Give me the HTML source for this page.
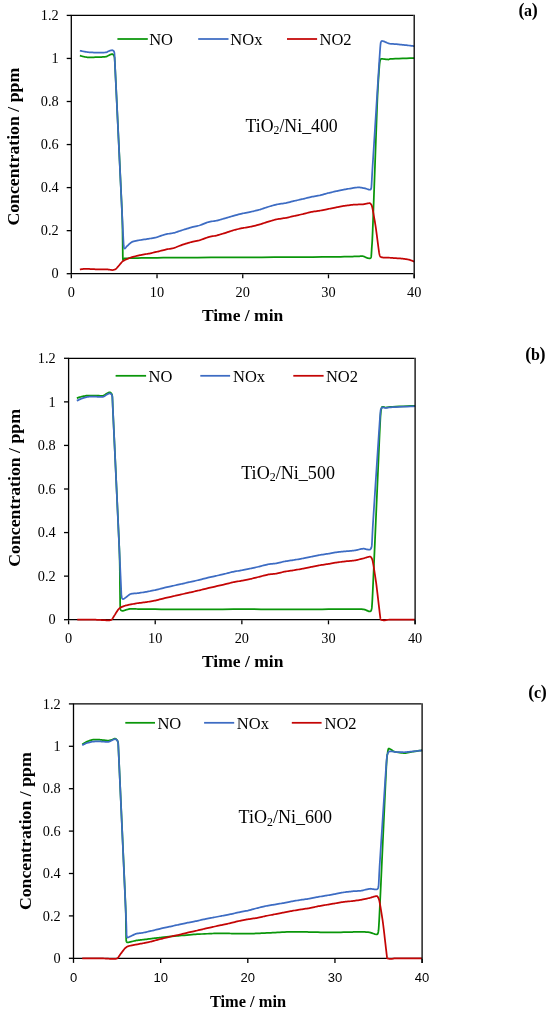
<!DOCTYPE html>
<html><head><meta charset="utf-8"><title>Chart</title>
<style>html,body{margin:0;padding:0;background:#fff}body{width:550px;height:1012px;overflow:hidden;font-family:"Liberation Serif",serif}</style></head>
<body>
<div style="will-change:transform;width:550px;height:1012px">
<svg width="550" height="1012" viewBox="0 0 550 1012" style="display:block">
<path d="M413.55,15.40 H71.30 V273.70 H413.55" fill="none" stroke="#000" stroke-width="1.30" stroke-linejoin="miter"/>
<path d="M79.87,55.65 L80.14,55.72 L80.60,55.84 L81.19,55.99 L81.85,56.17 L82.54,56.34 L83.19,56.50 L83.75,56.64 L84.16,56.73 L84.54,56.80 L85.01,56.90 L85.55,57.00 L86.14,57.10 L86.75,57.20 L87.35,57.28 L87.93,57.34 L88.44,57.37 L89.11,57.38 L90.09,57.37 L91.27,57.34 L92.57,57.31 L93.89,57.27 L95.14,57.23 L96.21,57.19 L97.02,57.16 L97.83,57.13 L98.90,57.10 L100.14,57.06 L101.46,57.01 L102.76,56.95 L103.95,56.89 L104.92,56.81 L105.59,56.73 L106.12,56.59 L106.71,56.36 L107.33,56.08 L107.96,55.77 L108.56,55.45 L109.10,55.17 L109.55,54.94 L109.88,54.79 L110.17,54.68 L110.50,54.55 L110.87,54.42 L111.25,54.30 L111.62,54.20 L111.95,54.13 L112.24,54.11 L112.45,54.14 L112.65,54.25 L112.89,54.42 L113.17,54.65 L113.46,54.94 L113.73,55.30 L113.99,55.72 L114.19,56.19 L114.33,56.73 L114.42,57.07 L114.48,57.17 L114.53,57.32 L114.58,57.82 L114.66,58.96 L114.78,61.04 L114.95,64.36 L115.19,69.21 L115.66,78.89 L116.45,95.08 L117.44,115.64 L118.54,138.43 L119.63,161.31 L120.62,182.14 L121.41,198.79 L121.88,209.12 L122.12,215.25 L122.30,220.73 L122.42,225.58 L122.50,229.84 L122.56,233.52 L122.59,236.66 L122.62,239.29 L122.65,241.41 L122.68,243.57 L122.71,246.12 L122.73,248.90 L122.76,251.70 L122.78,254.35 L122.81,256.66 L122.85,258.43 L122.91,259.49 L122.98,259.94 L123.07,260.06 L123.19,259.93 L123.34,259.64 L123.52,259.26 L123.73,258.88 L123.98,258.57 L124.28,258.42 L124.69,258.37 L125.27,258.34 L126.01,258.31 L126.88,258.29 L127.87,258.26 L128.95,258.24 L130.10,258.22 L131.31,258.20 L132.90,258.17 L135.14,258.12 L137.95,258.06 L141.22,257.99 L144.85,257.93 L148.77,257.87 L152.85,257.81 L157.02,257.77 L163.20,257.73 L172.71,257.68 L184.53,257.62 L197.64,257.56 L211.03,257.49 L223.69,257.43 L234.60,257.38 L242.75,257.34 L250.90,257.30 L261.81,257.25 L274.47,257.19 L287.86,257.13 L300.97,257.06 L312.79,257.00 L322.30,256.95 L328.48,256.91 L332.64,256.87 L336.71,256.82 L340.61,256.76 L344.23,256.69 L347.49,256.62 L350.29,256.57 L352.56,256.52 L354.19,256.48 L355.50,256.44 L356.82,256.40 L358.12,256.34 L359.35,256.29 L360.47,256.24 L361.44,256.21 L362.22,256.19 L362.76,256.20 L363.18,256.25 L363.57,256.35 L363.94,256.47 L364.29,256.62 L364.61,256.77 L364.89,256.91 L365.14,257.03 L365.34,257.13 L365.54,257.22 L365.80,257.34 L366.10,257.48 L366.41,257.64 L366.72,257.79 L367.01,257.92 L367.27,258.03 L367.48,258.09 L367.71,258.14 L368.03,258.19 L368.40,258.25 L368.80,258.29 L369.20,258.32 L369.56,258.34 L369.85,258.34 L370.05,258.31 L370.20,258.26 L370.36,258.19 L370.52,258.09 L370.68,257.96 L370.84,257.78 L370.97,257.55 L371.08,257.27 L371.17,256.91 L371.23,256.33 L371.31,255.44 L371.39,254.30 L371.47,253.01 L371.55,251.64 L371.63,250.27 L371.70,248.99 L371.77,247.87 L371.83,246.94 L371.90,246.02 L371.99,244.93 L372.09,243.47 L372.21,241.45 L372.35,238.66 L372.51,234.91 L372.71,230.00 L373.04,220.85 L373.57,205.77 L374.24,186.72 L374.98,165.64 L375.72,144.49 L376.41,125.19 L376.97,109.71 L377.34,99.99 L377.61,93.91 L377.91,88.12 L378.22,82.72 L378.54,77.79 L378.83,73.45 L379.10,69.79 L379.32,66.91 L379.48,64.91 L379.62,63.51 L379.76,62.36 L379.91,61.42 L380.08,60.69 L380.24,60.11 L380.42,59.67 L380.59,59.34 L380.77,59.10 L381.02,58.93 L381.39,58.84 L381.86,58.83 L382.37,58.86 L382.90,58.92 L383.40,59.00 L383.85,59.06 L384.20,59.10 L384.57,59.13 L385.10,59.18 L385.71,59.26 L386.37,59.34 L387.03,59.41 L387.63,59.47 L388.13,59.52 L388.48,59.53 L388.68,59.50 L388.81,59.44 L388.92,59.35 L389.06,59.25 L389.29,59.15 L389.66,59.04 L390.23,58.95 L391.05,58.88 L392.69,58.80 L395.43,58.69 L398.90,58.56 L402.72,58.43 L406.54,58.29 L409.97,58.17 L412.65,58.08 L414.20,58.02" fill="none" stroke="#0A960A" stroke-width="1.75" stroke-linejoin="round" stroke-linecap="butt"/>
<path d="M79.87,50.70 L80.14,50.76 L80.60,50.85 L81.19,50.97 L81.85,51.11 L82.54,51.25 L83.19,51.38 L83.75,51.49 L84.16,51.56 L84.54,51.63 L85.01,51.71 L85.55,51.80 L86.14,51.90 L86.75,52.00 L87.35,52.08 L87.93,52.16 L88.44,52.21 L89.11,52.26 L90.09,52.32 L91.27,52.39 L92.57,52.46 L93.89,52.52 L95.14,52.58 L96.21,52.62 L97.02,52.64 L97.83,52.64 L98.90,52.64 L100.14,52.63 L101.46,52.61 L102.76,52.58 L103.95,52.54 L104.92,52.49 L105.59,52.42 L106.12,52.30 L106.71,52.10 L107.33,51.85 L107.96,51.57 L108.56,51.29 L109.10,51.03 L109.55,50.83 L109.88,50.70 L110.17,50.61 L110.50,50.52 L110.87,50.42 L111.25,50.33 L111.62,50.26 L111.95,50.23 L112.24,50.22 L112.45,50.27 L112.65,50.35 L112.89,50.46 L113.17,50.61 L113.46,50.82 L113.73,51.11 L113.99,51.50 L114.19,52.00 L114.33,52.64 L114.41,53.16 L114.46,53.52 L114.50,54.02 L114.54,54.96 L114.62,56.64 L114.73,59.38 L114.92,63.47 L115.19,69.21 L115.73,80.53 L116.64,99.45 L117.78,123.43 L119.05,149.95 L120.31,176.46 L121.46,200.44 L122.36,219.34 L122.91,230.65 L123.19,236.37 L123.39,240.41 L123.53,243.09 L123.63,244.71 L123.69,245.58 L123.74,246.01 L123.79,246.32 L123.85,246.79 L123.94,247.38 L124.05,247.83 L124.18,248.14 L124.32,248.35 L124.47,248.47 L124.61,248.53 L124.75,248.53 L124.88,248.52 L125.03,248.42 L125.24,248.21 L125.50,247.91 L125.80,247.56 L126.11,247.17 L126.42,246.79 L126.73,246.44 L127.02,246.15 L127.40,245.80 L127.95,245.28 L128.63,244.65 L129.38,243.97 L130.16,243.29 L130.92,242.68 L131.60,242.17 L132.16,241.84 L132.80,241.61 L133.68,241.36 L134.74,241.11 L135.89,240.87 L137.06,240.64 L138.17,240.43 L139.13,240.26 L139.88,240.12 L140.65,239.99 L141.67,239.83 L142.86,239.66 L144.13,239.48 L145.42,239.29 L146.62,239.12 L147.66,238.96 L148.45,238.83 L149.24,238.69 L150.27,238.50 L151.47,238.27 L152.74,238.03 L154.01,237.77 L155.20,237.52 L156.23,237.30 L157.02,237.11 L157.82,236.88 L158.85,236.54 L160.04,236.14 L161.31,235.70 L162.58,235.26 L163.78,234.86 L164.81,234.53 L165.60,234.31 L166.39,234.14 L167.42,233.95 L168.61,233.76 L169.88,233.56 L171.16,233.35 L172.35,233.16 L173.38,232.97 L174.17,232.80 L174.96,232.58 L175.99,232.26 L177.18,231.87 L178.46,231.44 L179.73,231.01 L180.92,230.61 L181.95,230.26 L182.74,230.00 L183.53,229.76 L184.56,229.44 L185.76,229.08 L187.03,228.69 L188.30,228.30 L189.49,227.95 L190.52,227.65 L191.31,227.42 L192.11,227.21 L193.14,226.96 L194.33,226.67 L195.60,226.37 L196.87,226.06 L198.07,225.77 L199.10,225.50 L199.89,225.27 L200.68,224.99 L201.71,224.60 L202.90,224.14 L204.17,223.63 L205.45,223.13 L206.64,222.67 L207.67,222.29 L208.46,222.04 L209.25,221.86 L210.28,221.66 L211.47,221.46 L212.75,221.25 L214.02,221.06 L215.21,220.87 L216.24,220.69 L217.03,220.53 L217.82,220.34 L218.85,220.07 L220.05,219.74 L221.32,219.39 L222.59,219.03 L223.78,218.69 L224.81,218.39 L225.61,218.17 L226.40,217.93 L227.43,217.62 L228.62,217.26 L229.89,216.87 L231.16,216.48 L232.36,216.12 L233.39,215.81 L234.18,215.58 L234.97,215.37 L236.00,215.10 L237.19,214.80 L238.46,214.47 L239.74,214.16 L240.93,213.86 L241.96,213.61 L242.75,213.43 L243.54,213.26 L244.57,213.05 L245.76,212.82 L247.04,212.57 L248.31,212.32 L249.50,212.09 L250.53,211.88 L251.32,211.71 L252.11,211.52 L253.14,211.28 L254.34,210.99 L255.61,210.67 L256.88,210.35 L258.07,210.05 L259.10,209.77 L259.89,209.56 L260.69,209.31 L261.72,208.98 L262.91,208.59 L264.18,208.16 L265.45,207.74 L266.65,207.34 L267.68,207.01 L268.47,206.76 L269.26,206.52 L270.29,206.22 L271.48,205.88 L272.75,205.52 L274.03,205.16 L275.22,204.84 L276.25,204.58 L277.04,204.39 L277.83,204.24 L278.86,204.08 L280.05,203.91 L281.33,203.74 L282.60,203.56 L283.79,203.39 L284.82,203.24 L285.61,203.10 L286.40,202.92 L287.43,202.67 L288.63,202.37 L289.90,202.05 L291.17,201.72 L292.36,201.41 L293.39,201.14 L294.19,200.95 L294.98,200.76 L296.01,200.53 L297.20,200.26 L298.47,199.98 L299.74,199.69 L300.94,199.43 L301.97,199.19 L302.76,199.01 L303.55,198.81 L304.58,198.55 L305.77,198.24 L307.04,197.92 L308.32,197.59 L309.51,197.29 L310.54,197.04 L311.33,196.86 L312.12,196.70 L313.15,196.52 L314.34,196.32 L315.62,196.11 L316.89,195.90 L318.08,195.70 L319.11,195.51 L319.90,195.35 L320.69,195.15 L321.72,194.88 L322.92,194.54 L324.19,194.18 L325.46,193.82 L326.65,193.48 L327.68,193.19 L328.48,192.98 L329.27,192.79 L330.30,192.55 L331.49,192.28 L332.76,191.99 L334.03,191.70 L335.23,191.44 L336.26,191.21 L337.05,191.04 L337.84,190.88 L338.87,190.67 L340.06,190.42 L341.33,190.17 L342.61,189.91 L343.80,189.68 L344.83,189.47 L345.62,189.32 L346.42,189.17 L347.49,188.98 L348.72,188.75 L350.03,188.52 L351.33,188.29 L352.52,188.09 L353.50,187.92 L354.19,187.82 L354.76,187.74 L355.42,187.66 L356.13,187.58 L356.86,187.50 L357.58,187.44 L358.26,187.40 L358.85,187.38 L359.34,187.38 L359.87,187.44 L360.60,187.55 L361.45,187.69 L362.37,187.86 L363.28,188.03 L364.12,188.20 L364.83,188.35 L365.34,188.46 L365.79,188.59 L366.36,188.77 L366.99,189.00 L367.64,189.23 L368.27,189.44 L368.84,189.62 L369.31,189.73 L369.62,189.75 L369.86,189.73 L370.10,189.71 L370.35,189.66 L370.59,189.53 L370.82,189.30 L371.03,188.92 L371.20,188.37 L371.34,187.60 L371.44,186.55 L371.54,185.14 L371.65,183.32 L371.77,181.03 L371.92,178.22 L372.10,174.83 L372.33,170.80 L372.62,166.07 L373.15,157.79 L374.00,144.28 L375.08,127.30 L376.27,108.61 L377.45,89.98 L378.53,73.16 L379.39,59.91 L379.91,51.99 L380.20,48.02 L380.42,45.28 L380.60,43.54 L380.75,42.56 L380.86,42.12 L380.97,41.98 L381.08,41.90 L381.20,41.66 L381.35,41.33 L381.56,41.11 L381.81,41.00 L382.09,40.97 L382.39,41.00 L382.71,41.06 L383.03,41.15 L383.34,41.23 L383.77,41.37 L384.43,41.64 L385.23,41.98 L386.13,42.37 L387.05,42.77 L387.94,43.13 L388.72,43.42 L389.34,43.60 L390.00,43.71 L390.89,43.80 L391.95,43.89 L393.10,43.98 L394.26,44.05 L395.36,44.12 L396.31,44.18 L397.06,44.24 L397.82,44.32 L398.84,44.41 L400.03,44.53 L401.31,44.66 L402.59,44.79 L403.79,44.91 L404.83,45.02 L405.63,45.10 L406.45,45.20 L407.57,45.34 L408.87,45.50 L410.24,45.67 L411.56,45.84 L412.74,45.99 L413.66,46.11 L414.20,46.18" fill="none" stroke="#3D6CC3" stroke-width="1.75" stroke-linejoin="round" stroke-linecap="butt"/>
<path d="M79.87,269.39 L80.25,269.35 L80.88,269.27 L81.70,269.17 L82.62,269.06 L83.57,268.95 L84.48,268.85 L85.27,268.78 L85.87,268.75 L86.48,268.76 L87.28,268.80 L88.22,268.86 L89.24,268.93 L90.26,269.01 L91.23,269.08 L92.07,269.14 L92.73,269.18 L93.42,269.21 L94.35,269.24 L95.43,269.27 L96.59,269.30 L97.75,269.33 L98.83,269.36 L99.76,269.38 L100.45,269.39 L101.11,269.40 L101.96,269.39 L102.94,269.39 L103.97,269.38 L104.99,269.37 L105.93,269.37 L106.73,269.38 L107.30,269.39 L107.83,269.44 L108.49,269.53 L109.23,269.64 L110.00,269.76 L110.76,269.87 L111.45,269.97 L112.03,270.03 L112.45,270.04 L112.81,270.00 L113.25,269.92 L113.73,269.81 L114.23,269.67 L114.72,269.51 L115.17,269.34 L115.57,269.15 L115.88,268.96 L116.19,268.69 L116.61,268.26 L117.08,267.73 L117.59,267.13 L118.10,266.53 L118.58,265.95 L118.99,265.46 L119.31,265.09 L119.62,264.73 L120.02,264.24 L120.49,263.68 L120.99,263.09 L121.49,262.50 L121.97,261.97 L122.39,261.52 L122.73,261.22 L123.11,260.97 L123.61,260.68 L124.20,260.37 L124.85,260.06 L125.49,259.76 L126.10,259.48 L126.62,259.24 L127.02,259.06 L127.40,258.89 L127.87,258.68 L128.42,258.45 L129.00,258.20 L129.61,257.95 L130.22,257.72 L130.79,257.51 L131.31,257.34 L131.97,257.15 L132.95,256.89 L134.13,256.59 L135.43,256.26 L136.75,255.93 L138.00,255.62 L139.07,255.37 L139.88,255.19 L140.67,255.03 L141.70,254.85 L142.89,254.64 L144.17,254.43 L145.44,254.21 L146.63,254.01 L147.66,253.83 L148.45,253.68 L149.24,253.52 L150.27,253.29 L151.47,253.03 L152.74,252.74 L154.01,252.45 L155.20,252.17 L156.23,251.93 L157.02,251.74 L157.82,251.55 L158.85,251.29 L160.04,250.99 L161.31,250.66 L162.58,250.34 L163.78,250.03 L164.81,249.78 L165.60,249.59 L166.39,249.43 L167.42,249.23 L168.61,249.01 L169.88,248.77 L171.16,248.53 L172.35,248.29 L173.38,248.07 L174.17,247.87 L174.96,247.61 L175.99,247.24 L177.18,246.78 L178.46,246.29 L179.73,245.79 L180.92,245.32 L181.95,244.93 L182.74,244.64 L183.53,244.38 L184.56,244.06 L185.76,243.69 L187.03,243.30 L188.30,242.92 L189.49,242.57 L190.52,242.28 L191.31,242.06 L192.11,241.87 L193.14,241.63 L194.33,241.38 L195.60,241.11 L196.87,240.83 L198.07,240.57 L199.10,240.33 L199.89,240.12 L200.68,239.87 L201.71,239.51 L202.90,239.07 L204.17,238.61 L205.45,238.14 L206.64,237.71 L207.67,237.35 L208.46,237.11 L209.25,236.92 L210.28,236.70 L211.47,236.47 L212.75,236.23 L214.02,235.99 L215.21,235.77 L216.24,235.56 L217.03,235.39 L217.82,235.17 L218.85,234.88 L220.05,234.52 L221.32,234.13 L222.59,233.74 L223.78,233.37 L224.81,233.05 L225.61,232.80 L226.40,232.55 L227.43,232.20 L228.62,231.81 L229.89,231.38 L231.16,230.96 L232.36,230.57 L233.39,230.24 L234.18,230.00 L234.97,229.80 L236.00,229.55 L237.19,229.27 L238.46,228.99 L239.74,228.71 L240.93,228.45 L241.96,228.23 L242.75,228.07 L243.54,227.92 L244.57,227.74 L245.76,227.54 L247.04,227.32 L248.31,227.11 L249.50,226.90 L250.53,226.72 L251.32,226.56 L252.11,226.38 L253.14,226.14 L254.34,225.85 L255.61,225.53 L256.88,225.21 L258.07,224.90 L259.10,224.63 L259.89,224.41 L260.69,224.17 L261.72,223.83 L262.91,223.44 L264.18,223.02 L265.45,222.59 L266.65,222.20 L267.68,221.86 L268.47,221.61 L269.26,221.37 L270.29,221.07 L271.48,220.73 L272.75,220.37 L274.03,220.02 L275.22,219.69 L276.25,219.43 L277.04,219.24 L277.83,219.09 L278.86,218.93 L280.05,218.76 L281.33,218.58 L282.60,218.40 L283.79,218.24 L284.82,218.08 L285.61,217.95 L286.40,217.79 L287.43,217.57 L288.63,217.30 L289.90,217.01 L291.17,216.71 L292.36,216.43 L293.39,216.19 L294.19,216.01 L294.98,215.84 L296.01,215.60 L297.20,215.34 L298.47,215.05 L299.74,214.77 L300.94,214.50 L301.97,214.26 L302.76,214.08 L303.55,213.88 L304.58,213.62 L305.77,213.31 L307.04,212.98 L308.32,212.65 L309.51,212.35 L310.54,212.10 L311.33,211.92 L312.12,211.78 L313.15,211.62 L314.34,211.44 L315.62,211.26 L316.89,211.08 L318.08,210.91 L319.11,210.76 L319.90,210.63 L320.69,210.49 L321.72,210.28 L322.92,210.05 L324.19,209.79 L325.46,209.53 L326.65,209.28 L327.68,209.07 L328.48,208.91 L329.27,208.75 L330.30,208.54 L331.49,208.30 L332.76,208.04 L334.03,207.78 L335.23,207.54 L336.26,207.34 L337.05,207.19 L337.84,207.04 L338.87,206.85 L340.06,206.64 L341.33,206.41 L342.61,206.19 L343.80,205.98 L344.83,205.81 L345.62,205.68 L346.41,205.57 L347.44,205.42 L348.63,205.26 L349.91,205.09 L351.18,204.93 L352.37,204.79 L353.40,204.68 L354.19,204.60 L355.00,204.56 L356.07,204.53 L357.32,204.51 L358.64,204.49 L359.94,204.47 L361.12,204.45 L362.10,204.42 L362.76,204.39 L363.29,204.33 L363.87,204.22 L364.49,204.10 L365.12,203.96 L365.71,203.82 L366.25,203.69 L366.71,203.59 L367.05,203.53 L367.37,203.47 L367.76,203.40 L368.19,203.32 L368.63,203.25 L369.07,203.20 L369.47,203.19 L369.80,203.22 L370.05,203.31 L370.27,203.47 L370.53,203.71 L370.81,204.02 L371.11,204.41 L371.41,204.89 L371.70,205.48 L371.96,206.17 L372.19,206.97 L372.47,208.28 L372.87,210.34 L373.34,212.92 L373.86,215.83 L374.38,218.84 L374.88,221.73 L375.30,224.31 L375.62,226.34 L375.95,228.63 L376.38,231.86 L376.88,235.70 L377.42,239.82 L377.94,243.86 L378.41,247.49 L378.80,250.38 L379.05,252.17 L379.23,253.22 L379.41,254.09 L379.58,254.80 L379.76,255.37 L379.93,255.83 L380.10,256.19 L380.26,256.47 L380.42,256.70 L380.64,256.88 L380.96,257.04 L381.35,257.18 L381.79,257.30 L382.23,257.39 L382.65,257.46 L383.03,257.52 L383.34,257.56 L383.67,257.58 L384.11,257.59 L384.64,257.58 L385.21,257.57 L385.80,257.56 L386.36,257.55 L386.87,257.55 L387.28,257.56 L387.73,257.58 L388.33,257.63 L389.04,257.68 L389.82,257.75 L390.63,257.81 L391.41,257.88 L392.14,257.94 L392.77,257.99 L393.54,258.04 L394.65,258.11 L396.00,258.20 L397.46,258.29 L398.93,258.39 L400.28,258.48 L401.41,258.57 L402.20,258.63 L402.86,258.70 L403.65,258.80 L404.53,258.92 L405.42,259.05 L406.29,259.18 L407.08,259.30 L407.73,259.41 L408.20,259.49 L408.59,259.59 L409.05,259.71 L409.54,259.86 L410.04,260.02 L410.53,260.19 L410.97,260.34 L411.35,260.47 L411.63,260.57 L411.90,260.67 L412.25,260.81 L412.64,260.98 L413.04,261.15 L413.43,261.31 L413.77,261.46 L414.04,261.58 L414.20,261.65" fill="none" stroke="#C40505" stroke-width="1.75" stroke-linejoin="round" stroke-linecap="butt"/>
<path d="M414.20,14.75 V278.30" fill="none" stroke="#000" stroke-width="1.30"/>
<path d="M66.70,273.70 H71.30" stroke="#000" stroke-width="1.30"/>
<text x="58.70" y="278.40" text-anchor="end" font-family="Liberation Serif" font-size="14.30px">0</text>
<path d="M66.70,230.65 H71.30" stroke="#000" stroke-width="1.30"/>
<text x="58.70" y="235.35" text-anchor="end" font-family="Liberation Serif" font-size="14.30px">0.2</text>
<path d="M66.70,187.60 H71.30" stroke="#000" stroke-width="1.30"/>
<text x="58.70" y="192.30" text-anchor="end" font-family="Liberation Serif" font-size="14.30px">0.4</text>
<path d="M66.70,144.55 H71.30" stroke="#000" stroke-width="1.30"/>
<text x="58.70" y="149.25" text-anchor="end" font-family="Liberation Serif" font-size="14.30px">0.6</text>
<path d="M66.70,101.50 H71.30" stroke="#000" stroke-width="1.30"/>
<text x="58.70" y="106.20" text-anchor="end" font-family="Liberation Serif" font-size="14.30px">0.8</text>
<path d="M66.70,58.45 H71.30" stroke="#000" stroke-width="1.30"/>
<text x="58.70" y="63.15" text-anchor="end" font-family="Liberation Serif" font-size="14.30px">1</text>
<path d="M66.70,15.40 H71.30" stroke="#000" stroke-width="1.30"/>
<text x="58.70" y="20.10" text-anchor="end" font-family="Liberation Serif" font-size="14.30px">1.2</text>
<path d="M71.30,274.35 V278.30" stroke="#000" stroke-width="1.30"/>
<text x="71.30" y="296.50" text-anchor="middle" font-family="Liberation Serif" font-size="14.30px">0</text>
<path d="M157.02,274.35 V278.30" stroke="#000" stroke-width="1.30"/>
<text x="157.02" y="296.50" text-anchor="middle" font-family="Liberation Serif" font-size="14.30px">10</text>
<path d="M242.75,274.35 V278.30" stroke="#000" stroke-width="1.30"/>
<text x="242.75" y="296.50" text-anchor="middle" font-family="Liberation Serif" font-size="14.30px">20</text>
<path d="M328.48,274.35 V278.30" stroke="#000" stroke-width="1.30"/>
<text x="328.48" y="296.50" text-anchor="middle" font-family="Liberation Serif" font-size="14.30px">30</text>
<path d="M414.20,274.35 V278.30" stroke="#000" stroke-width="1.30"/>
<text x="414.20" y="296.50" text-anchor="middle" font-family="Liberation Serif" font-size="14.30px">40</text>
<text x="242.60" y="320.60" text-anchor="middle" font-family="Liberation Serif" font-weight="bold" font-size="17.50px">Time / min</text>
<text transform="translate(19.20,146.70) rotate(-90)" text-anchor="middle" font-family="Liberation Serif" font-weight="bold" font-size="17.75px">Concentration / ppm</text>
<path d="M117.40,39.00 H147.80" stroke="#0A960A" stroke-width="1.75"/>
<text x="149.20" y="44.80" font-family="Liberation Serif" font-size="16.50px">NO</text>
<path d="M198.20,39.00 H228.50" stroke="#3D6CC3" stroke-width="1.75"/>
<text x="230.30" y="44.80" font-family="Liberation Serif" font-size="16.50px">NOx</text>
<path d="M287.00,39.00 H317.10" stroke="#C40505" stroke-width="1.75"/>
<text x="319.50" y="44.80" font-family="Liberation Serif" font-size="16.50px">NO2</text>
<text x="245.50" y="131.70" font-family="Liberation Serif" font-size="17.80px">TiO<tspan font-size="11.75px" dy="2.49">2</tspan><tspan dy="-2.49">/Ni_400</tspan></text>
<text x="518.40" y="15.90" font-family="Liberation Serif" font-weight="bold" font-size="18px" letter-spacing="-0.35px">(<tspan font-size="16px">a</tspan>)</text>
<path d="M414.45,358.30 H68.60 V619.70 H414.45" fill="none" stroke="#000" stroke-width="1.30" stroke-linejoin="miter"/>
<path d="M76.83,398.16 L77.13,398.06 L77.62,397.90 L78.26,397.68 L78.98,397.44 L79.74,397.20 L80.46,396.97 L81.10,396.77 L81.59,396.64 L82.11,396.52 L82.82,396.37 L83.65,396.21 L84.54,396.04 L85.45,395.87 L86.31,395.73 L87.07,395.62 L87.66,395.55 L88.27,395.52 L89.08,395.50 L90.02,395.50 L91.04,395.50 L92.07,395.51 L93.05,395.52 L93.91,395.54 L94.59,395.55 L95.33,395.57 L96.34,395.62 L97.54,395.68 L98.82,395.74 L100.08,395.79 L101.23,395.82 L102.18,395.82 L102.82,395.77 L103.30,395.63 L103.84,395.39 L104.40,395.08 L104.96,394.74 L105.50,394.38 L105.98,394.05 L106.40,393.77 L106.72,393.59 L107.02,393.43 L107.40,393.21 L107.83,392.98 L108.29,392.74 L108.73,392.53 L109.14,392.36 L109.49,392.27 L109.75,392.28 L109.99,392.38 L110.31,392.54 L110.67,392.78 L111.04,393.10 L111.40,393.51 L111.73,394.02 L112.00,394.62 L112.17,395.33 L112.27,396.04 L112.35,396.77 L112.40,397.72 L112.46,399.09 L112.54,401.08 L112.65,403.89 L112.81,407.72 L113.04,412.76 L113.48,422.22 L114.22,437.84 L115.14,457.60 L116.16,479.47 L117.18,501.44 L118.11,521.50 L118.84,537.63 L119.28,547.82 L119.50,554.26 L119.66,560.47 L119.77,566.33 L119.85,571.75 L119.89,576.63 L119.92,580.87 L119.94,584.37 L119.97,587.03 L120.00,589.46 L120.03,592.24 L120.07,595.20 L120.10,598.16 L120.13,600.95 L120.16,603.41 L120.19,605.36 L120.23,606.63 L120.28,607.44 L120.35,608.13 L120.44,608.72 L120.55,609.20 L120.66,609.59 L120.78,609.91 L120.89,610.15 L121.01,610.33 L121.16,610.47 L121.39,610.59 L121.67,610.67 L121.99,610.73 L122.32,610.77 L122.64,610.79 L122.93,610.79 L123.17,610.77 L123.45,610.71 L123.85,610.60 L124.32,610.45 L124.84,610.27 L125.37,610.09 L125.87,609.92 L126.30,609.78 L126.64,609.68 L126.97,609.59 L127.40,609.47 L127.90,609.34 L128.44,609.19 L129.00,609.06 L129.56,608.94 L130.08,608.86 L130.54,608.81 L131.08,608.80 L131.82,608.81 L132.71,608.84 L133.71,608.88 L134.78,608.92 L135.87,608.96 L136.92,609.00 L137.90,609.03 L138.93,609.05 L140.19,609.08 L141.73,609.11 L143.59,609.14 L145.83,609.18 L148.48,609.21 L151.60,609.23 L155.22,609.24 L161.22,609.25 L170.71,609.25 L182.63,609.25 L195.94,609.25 L209.57,609.25 L222.47,609.25 L233.58,609.24 L241.85,609.24 L250.07,609.24 L261.05,609.25 L273.79,609.25 L287.27,609.25 L300.50,609.25 L312.44,609.25 L322.11,609.25 L328.48,609.24 L332.99,609.23 L337.63,609.19 L342.25,609.15 L346.66,609.11 L350.69,609.07 L354.17,609.04 L356.93,609.02 L358.79,609.03 L360.06,609.06 L361.13,609.11 L362.04,609.19 L362.80,609.28 L363.44,609.38 L363.98,609.48 L364.45,609.58 L364.86,609.68 L365.32,609.82 L365.88,610.05 L366.51,610.33 L367.17,610.63 L367.81,610.92 L368.38,611.17 L368.86,611.35 L369.19,611.42 L369.45,611.44 L369.75,611.44 L370.07,611.42 L370.39,611.34 L370.69,611.17 L370.96,610.89 L371.19,610.48 L371.35,609.90 L371.48,609.40 L371.59,609.06 L371.70,608.57 L371.83,607.63 L371.97,605.96 L372.15,603.26 L372.38,599.22 L372.65,593.56 L373.15,582.44 L373.97,563.87 L374.99,540.34 L376.12,514.30 L377.25,488.23 L378.27,464.60 L379.08,445.88 L379.58,434.54 L379.87,428.45 L380.10,423.68 L380.29,420.04 L380.44,417.32 L380.57,415.33 L380.69,413.85 L380.79,412.70 L380.88,411.67 L380.99,410.69 L381.13,409.81 L381.28,409.05 L381.45,408.39 L381.63,407.85 L381.82,407.41 L382.00,407.09 L382.18,406.88 L382.43,406.79 L382.80,406.80 L383.26,406.90 L383.77,407.05 L384.30,407.21 L384.81,407.37 L385.27,407.49 L385.65,407.53 L386.00,407.51 L386.41,407.45 L386.90,407.37 L387.47,407.27 L388.13,407.16 L388.91,407.05 L389.81,406.95 L390.85,406.88 L392.63,406.78 L395.54,406.65 L399.17,406.48 L403.17,406.31 L407.14,406.13 L410.70,405.98 L413.48,405.86 L415.10,405.79" fill="none" stroke="#0A960A" stroke-width="1.75" stroke-linejoin="round" stroke-linecap="butt"/>
<path d="M76.83,400.78 L77.13,400.64 L77.62,400.40 L78.26,400.10 L78.98,399.75 L79.74,399.40 L80.46,399.07 L81.10,398.80 L81.59,398.60 L82.11,398.42 L82.82,398.19 L83.65,397.93 L84.54,397.65 L85.45,397.39 L86.31,397.16 L87.07,396.97 L87.66,396.86 L88.27,396.79 L89.08,396.74 L90.02,396.70 L91.04,396.67 L92.07,396.66 L93.05,396.65 L93.91,396.64 L94.59,396.64 L95.33,396.66 L96.34,396.70 L97.54,396.76 L98.82,396.82 L100.08,396.87 L101.23,396.91 L102.18,396.90 L102.82,396.86 L103.30,396.72 L103.84,396.48 L104.40,396.17 L104.96,395.82 L105.50,395.47 L105.98,395.14 L106.40,394.86 L106.72,394.68 L107.02,394.52 L107.40,394.31 L107.83,394.08 L108.29,393.84 L108.73,393.64 L109.14,393.47 L109.49,393.38 L109.75,393.37 L109.99,393.44 L110.31,393.56 L110.67,393.74 L111.04,394.00 L111.40,394.34 L111.73,394.78 L112.00,395.32 L112.17,395.99 L112.27,396.52 L112.33,396.89 L112.37,397.39 L112.41,398.34 L112.48,400.05 L112.60,402.81 L112.77,406.94 L113.04,412.76 L113.57,424.20 L114.45,443.31 L115.57,467.54 L116.81,494.34 L118.04,521.15 L119.16,545.42 L120.04,564.60 L120.57,576.13 L120.84,582.14 L121.03,586.59 L121.16,589.77 L121.24,591.94 L121.29,593.35 L121.33,594.28 L121.38,594.99 L121.44,595.74 L121.55,596.53 L121.69,597.18 L121.86,597.71 L122.04,598.14 L122.23,598.47 L122.42,598.72 L122.59,598.89 L122.74,599.01 L122.90,599.06 L123.12,599.04 L123.37,598.97 L123.66,598.85 L123.97,598.69 L124.29,598.52 L124.60,598.33 L124.91,598.13 L125.32,597.83 L125.93,597.35 L126.69,596.74 L127.53,596.07 L128.39,595.39 L129.22,594.78 L129.95,594.30 L130.54,594.00 L131.16,593.82 L132.01,593.68 L133.02,593.56 L134.10,593.45 L135.21,593.36 L136.26,593.28 L137.18,593.20 L137.90,593.12 L138.66,593.02 L139.69,592.87 L140.89,592.70 L142.18,592.50 L143.48,592.31 L144.70,592.12 L145.76,591.95 L146.56,591.82 L147.36,591.67 L148.40,591.47 L149.61,591.24 L150.89,590.98 L152.18,590.72 L153.38,590.47 L154.43,590.25 L155.22,590.07 L156.02,589.89 L157.07,589.63 L158.27,589.32 L159.56,588.99 L160.84,588.66 L162.05,588.36 L163.09,588.09 L163.89,587.90 L164.69,587.71 L165.73,587.47 L166.93,587.20 L168.22,586.91 L169.50,586.62 L170.71,586.35 L171.75,586.12 L172.55,585.94 L173.35,585.76 L174.39,585.52 L175.60,585.25 L176.88,584.96 L178.17,584.66 L179.37,584.39 L180.41,584.16 L181.21,583.98 L182.01,583.79 L183.05,583.56 L184.26,583.29 L185.54,583.00 L186.83,582.70 L188.03,582.43 L189.08,582.20 L189.88,582.01 L190.67,581.83 L191.72,581.60 L192.92,581.33 L194.21,581.04 L195.49,580.75 L196.70,580.48 L197.74,580.24 L198.54,580.05 L199.34,579.86 L200.38,579.60 L201.58,579.29 L202.87,578.97 L204.15,578.64 L205.36,578.33 L206.40,578.07 L207.20,577.88 L208.00,577.69 L209.04,577.45 L210.25,577.18 L211.53,576.89 L212.82,576.60 L214.02,576.33 L215.06,576.10 L215.86,575.92 L216.66,575.74 L217.70,575.50 L218.91,575.23 L220.19,574.94 L221.48,574.65 L222.68,574.38 L223.73,574.14 L224.52,573.96 L225.32,573.76 L226.37,573.49 L227.57,573.18 L228.86,572.85 L230.14,572.52 L231.35,572.22 L232.39,571.96 L233.19,571.78 L233.99,571.62 L235.03,571.43 L236.23,571.22 L237.52,571.00 L238.80,570.78 L240.01,570.58 L241.05,570.40 L241.85,570.25 L242.65,570.10 L243.69,569.89 L244.90,569.65 L246.18,569.40 L247.47,569.14 L248.67,568.89 L249.71,568.68 L250.51,568.51 L251.31,568.34 L252.35,568.10 L253.56,567.84 L254.84,567.55 L256.13,567.25 L257.33,566.98 L258.38,566.74 L259.17,566.55 L259.97,566.35 L261.02,566.08 L262.22,565.76 L263.51,565.43 L264.79,565.09 L266.00,564.79 L267.04,564.54 L267.84,564.37 L268.64,564.24 L269.68,564.11 L270.88,563.96 L272.17,563.82 L273.45,563.67 L274.66,563.53 L275.70,563.40 L276.50,563.28 L277.30,563.12 L278.34,562.89 L279.55,562.61 L280.83,562.31 L282.12,562.00 L283.32,561.72 L284.36,561.49 L285.16,561.32 L285.96,561.18 L287.00,561.02 L288.21,560.84 L289.49,560.65 L290.78,560.47 L291.98,560.29 L293.03,560.14 L293.82,560.01 L294.62,559.88 L295.67,559.70 L296.87,559.49 L298.16,559.27 L299.44,559.04 L300.65,558.83 L301.69,558.64 L302.49,558.49 L303.29,558.33 L304.33,558.13 L305.53,557.89 L306.82,557.63 L308.10,557.36 L309.31,557.12 L310.35,556.91 L311.15,556.75 L311.95,556.58 L312.99,556.37 L314.20,556.12 L315.48,555.86 L316.77,555.60 L317.97,555.36 L319.01,555.15 L319.81,555.00 L320.61,554.87 L321.65,554.71 L322.86,554.53 L324.14,554.34 L325.43,554.15 L326.63,553.98 L327.68,553.82 L328.48,553.70 L329.27,553.56 L330.32,553.37 L331.52,553.15 L332.81,552.92 L334.09,552.68 L335.30,552.47 L336.34,552.29 L337.14,552.17 L337.94,552.07 L338.98,551.96 L340.18,551.84 L341.47,551.71 L342.75,551.59 L343.96,551.48 L345.00,551.38 L345.80,551.30 L346.60,551.22 L347.64,551.13 L348.85,551.02 L350.13,550.90 L351.42,550.77 L352.62,550.65 L353.66,550.53 L354.46,550.43 L355.28,550.28 L356.38,550.06 L357.64,549.79 L358.99,549.50 L360.31,549.22 L361.50,548.97 L362.48,548.78 L363.12,548.69 L363.59,548.68 L364.08,548.73 L364.57,548.82 L365.05,548.94 L365.51,549.07 L365.93,549.19 L366.29,549.28 L366.59,549.34 L366.92,549.39 L367.35,549.46 L367.85,549.54 L368.39,549.62 L368.91,549.67 L369.39,549.69 L369.79,549.66 L370.05,549.56 L370.27,549.40 L370.50,549.18 L370.75,548.89 L371.00,548.50 L371.24,548.00 L371.46,547.37 L371.65,546.59 L371.79,545.64 L371.90,544.33 L372.00,542.52 L372.11,540.22 L372.24,537.43 L372.39,534.17 L372.58,530.45 L372.81,526.28 L373.09,521.68 L373.59,513.96 L374.40,501.50 L375.42,485.92 L376.55,468.81 L377.68,451.77 L378.70,436.41 L379.52,424.32 L380.02,417.12 L380.30,413.56 L380.53,411.20 L380.72,409.80 L380.88,409.11 L381.01,408.91 L381.12,408.96 L381.22,409.01 L381.32,408.84 L381.43,408.49 L381.57,408.20 L381.73,407.95 L381.90,407.74 L382.08,407.57 L382.27,407.45 L382.45,407.36 L382.62,407.31 L382.84,407.32 L383.16,407.38 L383.55,407.48 L383.99,407.61 L384.44,407.74 L384.89,407.85 L385.30,407.93 L385.65,407.97 L385.99,407.95 L386.39,407.89 L386.88,407.81 L387.45,407.70 L388.12,407.60 L388.91,407.49 L389.81,407.39 L390.85,407.31 L392.63,407.22 L395.54,407.08 L399.17,406.92 L403.17,406.74 L407.14,406.57 L410.70,406.41 L413.48,406.29 L415.10,406.22" fill="none" stroke="#3D6CC3" stroke-width="1.75" stroke-linejoin="round" stroke-linecap="butt"/>
<path d="M77.26,619.70 L78.40,619.70 L80.33,619.69 L82.82,619.69 L85.60,619.68 L88.42,619.68 L91.03,619.68 L93.17,619.69 L94.59,619.70 L95.65,619.73 L96.84,619.78 L98.10,619.84 L99.37,619.91 L100.59,619.98 L101.68,620.05 L102.59,620.10 L103.25,620.14 L103.84,620.17 L104.53,620.20 L105.28,620.24 L106.05,620.29 L106.80,620.32 L107.48,620.35 L108.04,620.36 L108.45,620.35 L108.80,620.33 L109.22,620.30 L109.67,620.26 L110.14,620.20 L110.59,620.12 L111.01,620.01 L111.38,619.87 L111.65,619.70 L111.92,619.41 L112.27,618.95 L112.66,618.36 L113.07,617.70 L113.49,617.02 L113.88,616.37 L114.23,615.79 L114.51,615.34 L114.82,614.86 L115.23,614.19 L115.73,613.40 L116.25,612.55 L116.78,611.71 L117.27,610.94 L117.68,610.32 L117.98,609.90 L118.23,609.59 L118.54,609.25 L118.88,608.90 L119.24,608.56 L119.61,608.23 L119.96,607.94 L120.29,607.69 L120.57,607.50 L120.92,607.32 L121.40,607.10 L121.99,606.85 L122.63,606.59 L123.28,606.33 L123.91,606.10 L124.46,605.90 L124.91,605.76 L125.38,605.63 L126.02,605.46 L126.78,605.28 L127.61,605.09 L128.45,604.90 L129.25,604.72 L129.96,604.57 L130.54,604.45 L131.16,604.33 L132.01,604.17 L133.02,603.99 L134.10,603.79 L135.21,603.59 L136.26,603.41 L137.18,603.26 L137.90,603.14 L138.66,603.04 L139.69,602.91 L140.89,602.76 L142.18,602.61 L143.48,602.45 L144.70,602.30 L145.76,602.17 L146.56,602.06 L147.36,601.93 L148.40,601.76 L149.61,601.56 L150.89,601.33 L152.18,601.11 L153.38,600.89 L154.43,600.69 L155.22,600.53 L156.02,600.35 L157.07,600.09 L158.27,599.79 L159.56,599.46 L160.84,599.13 L162.05,598.82 L163.09,598.55 L163.89,598.35 L164.69,598.17 L165.73,597.93 L166.93,597.65 L168.22,597.36 L169.50,597.08 L170.71,596.81 L171.75,596.57 L172.55,596.39 L173.35,596.21 L174.39,595.98 L175.60,595.70 L176.88,595.41 L178.17,595.12 L179.37,594.85 L180.41,594.61 L181.21,594.43 L182.01,594.25 L183.05,594.01 L184.26,593.74 L185.54,593.45 L186.83,593.16 L188.03,592.89 L189.08,592.65 L189.88,592.47 L190.67,592.29 L191.72,592.06 L192.92,591.79 L194.21,591.50 L195.49,591.21 L196.70,590.94 L197.74,590.70 L198.54,590.51 L199.34,590.31 L200.38,590.05 L201.58,589.75 L202.87,589.42 L204.15,589.09 L205.36,588.79 L206.40,588.53 L207.20,588.33 L208.00,588.15 L209.04,587.91 L210.25,587.63 L211.53,587.34 L212.82,587.05 L214.02,586.79 L215.06,586.55 L215.86,586.37 L216.66,586.19 L217.70,585.96 L218.91,585.69 L220.19,585.40 L221.48,585.11 L222.68,584.84 L223.73,584.60 L224.52,584.41 L225.32,584.21 L226.37,583.95 L227.57,583.64 L228.86,583.31 L230.14,582.98 L231.35,582.67 L232.39,582.42 L233.19,582.23 L233.99,582.07 L235.03,581.88 L236.23,581.67 L237.52,581.45 L238.80,581.24 L240.01,581.03 L241.05,580.85 L241.85,580.71 L242.65,580.56 L243.69,580.35 L244.90,580.12 L246.18,579.86 L247.47,579.60 L248.67,579.36 L249.71,579.14 L250.51,578.97 L251.31,578.78 L252.35,578.52 L253.56,578.22 L254.84,577.89 L256.13,577.56 L257.33,577.26 L258.38,576.99 L259.17,576.79 L259.97,576.58 L261.02,576.31 L262.22,575.99 L263.51,575.66 L264.79,575.33 L266.00,575.03 L267.04,574.78 L267.84,574.61 L268.64,574.48 L269.68,574.34 L270.88,574.20 L272.17,574.06 L273.45,573.91 L274.66,573.77 L275.70,573.64 L276.50,573.52 L277.30,573.36 L278.34,573.13 L279.55,572.85 L280.83,572.55 L282.12,572.24 L283.32,571.96 L284.36,571.72 L285.16,571.56 L285.96,571.42 L287.00,571.26 L288.21,571.08 L289.49,570.89 L290.78,570.70 L291.98,570.53 L293.03,570.38 L293.82,570.25 L294.62,570.12 L295.67,569.94 L296.87,569.73 L298.16,569.51 L299.44,569.28 L300.65,569.06 L301.69,568.87 L302.49,568.73 L303.29,568.57 L304.33,568.37 L305.53,568.12 L306.82,567.86 L308.10,567.60 L309.31,567.36 L310.35,567.15 L311.15,566.98 L311.95,566.82 L312.99,566.61 L314.20,566.36 L315.48,566.10 L316.77,565.84 L317.97,565.59 L319.01,565.39 L319.81,565.24 L320.61,565.11 L321.65,564.95 L322.86,564.77 L324.14,564.58 L325.43,564.39 L326.63,564.22 L327.68,564.06 L328.48,563.93 L329.27,563.80 L330.32,563.61 L331.52,563.40 L332.81,563.16 L334.09,562.93 L335.30,562.72 L336.34,562.54 L337.14,562.41 L337.94,562.30 L338.98,562.16 L340.18,562.00 L341.47,561.84 L342.75,561.68 L343.96,561.54 L345.00,561.41 L345.80,561.32 L346.60,561.24 L347.64,561.14 L348.85,561.03 L350.13,560.92 L351.42,560.80 L352.62,560.68 L353.66,560.56 L354.46,560.45 L355.28,560.30 L356.36,560.07 L357.62,559.79 L358.96,559.49 L360.27,559.18 L361.47,558.89 L362.45,558.66 L363.12,558.49 L363.65,558.35 L364.25,558.17 L364.87,557.98 L365.50,557.78 L366.10,557.59 L366.65,557.41 L367.11,557.27 L367.46,557.18 L367.78,557.10 L368.17,556.99 L368.60,556.87 L369.05,556.76 L369.49,556.68 L369.90,556.63 L370.24,556.65 L370.49,556.75 L370.71,556.92 L370.97,557.18 L371.25,557.53 L371.55,557.98 L371.86,558.53 L372.15,559.20 L372.42,559.98 L372.65,560.88 L372.93,562.34 L373.33,564.62 L373.80,567.48 L374.32,570.71 L374.85,574.07 L375.35,577.33 L375.78,580.28 L376.12,582.67 L376.48,585.48 L376.97,589.55 L377.55,594.42 L378.16,599.66 L378.76,604.81 L379.31,609.44 L379.74,613.10 L380.02,615.34 L380.18,616.57 L380.30,617.52 L380.41,618.22 L380.50,618.72 L380.59,619.08 L380.69,619.33 L380.81,619.52 L380.97,619.70 L381.24,619.87 L381.65,620.01 L382.17,620.13 L382.75,620.21 L383.34,620.28 L383.91,620.32 L384.40,620.35 L384.78,620.35 L385.08,620.33 L385.38,620.26 L385.71,620.16 L386.12,620.05 L386.62,619.94 L387.27,619.83 L388.09,619.75 L389.11,619.70 L390.99,619.68 L394.09,619.67 L397.98,619.67 L402.27,619.68 L406.53,619.68 L410.37,619.69 L413.36,619.70 L415.10,619.70" fill="none" stroke="#C40505" stroke-width="1.75" stroke-linejoin="round" stroke-linecap="butt"/>
<path d="M415.10,357.65 V624.30" fill="none" stroke="#000" stroke-width="1.30"/>
<path d="M64.00,619.70 H68.60" stroke="#000" stroke-width="1.30"/>
<text x="55.70" y="624.40" text-anchor="end" font-family="Liberation Serif" font-size="14.30px">0</text>
<path d="M64.00,576.13 H68.60" stroke="#000" stroke-width="1.30"/>
<text x="55.70" y="580.83" text-anchor="end" font-family="Liberation Serif" font-size="14.30px">0.2</text>
<path d="M64.00,532.57 H68.60" stroke="#000" stroke-width="1.30"/>
<text x="55.70" y="537.27" text-anchor="end" font-family="Liberation Serif" font-size="14.30px">0.4</text>
<path d="M64.00,489.00 H68.60" stroke="#000" stroke-width="1.30"/>
<text x="55.70" y="493.70" text-anchor="end" font-family="Liberation Serif" font-size="14.30px">0.6</text>
<path d="M64.00,445.43 H68.60" stroke="#000" stroke-width="1.30"/>
<text x="55.70" y="450.13" text-anchor="end" font-family="Liberation Serif" font-size="14.30px">0.8</text>
<path d="M64.00,401.87 H68.60" stroke="#000" stroke-width="1.30"/>
<text x="55.70" y="406.57" text-anchor="end" font-family="Liberation Serif" font-size="14.30px">1</text>
<path d="M64.00,358.30 H68.60" stroke="#000" stroke-width="1.30"/>
<text x="55.70" y="363.00" text-anchor="end" font-family="Liberation Serif" font-size="14.30px">1.2</text>
<path d="M68.60,620.35 V624.30" stroke="#000" stroke-width="1.30"/>
<text x="68.60" y="642.70" text-anchor="middle" font-family="Liberation Serif" font-size="14.30px">0</text>
<path d="M155.22,620.35 V624.30" stroke="#000" stroke-width="1.30"/>
<text x="155.22" y="642.70" text-anchor="middle" font-family="Liberation Serif" font-size="14.30px">10</text>
<path d="M241.85,620.35 V624.30" stroke="#000" stroke-width="1.30"/>
<text x="241.85" y="642.70" text-anchor="middle" font-family="Liberation Serif" font-size="14.30px">20</text>
<path d="M328.48,620.35 V624.30" stroke="#000" stroke-width="1.30"/>
<text x="328.48" y="642.70" text-anchor="middle" font-family="Liberation Serif" font-size="14.30px">30</text>
<path d="M415.10,620.35 V624.30" stroke="#000" stroke-width="1.30"/>
<text x="415.10" y="642.70" text-anchor="middle" font-family="Liberation Serif" font-size="14.30px">40</text>
<text x="242.70" y="667.40" text-anchor="middle" font-family="Liberation Serif" font-weight="bold" font-size="17.50px">Time / min</text>
<text transform="translate(20.20,487.90) rotate(-90)" text-anchor="middle" font-family="Liberation Serif" font-weight="bold" font-size="17.75px">Concentration / ppm</text>
<path d="M115.60,375.80 H146.10" stroke="#0A960A" stroke-width="1.75"/>
<text x="148.50" y="381.60" font-family="Liberation Serif" font-size="16.50px">NO</text>
<path d="M200.30,375.80 H230.10" stroke="#3D6CC3" stroke-width="1.75"/>
<text x="233.00" y="381.60" font-family="Liberation Serif" font-size="16.50px">NOx</text>
<path d="M293.30,375.80 H323.60" stroke="#C40505" stroke-width="1.75"/>
<text x="325.90" y="381.60" font-family="Liberation Serif" font-size="16.50px">NO2</text>
<text x="241.20" y="478.50" font-family="Liberation Serif" font-size="18.10px">TiO<tspan font-size="11.95px" dy="2.53">2</tspan><tspan dy="-2.53">/Ni_500</tspan></text>
<text x="525.30" y="359.50" font-family="Liberation Serif" font-weight="bold" font-size="18px" letter-spacing="-0.35px">(<tspan font-size="16px">b</tspan>)</text>
<path d="M421.45,703.90 H73.50 V958.30 H421.45" fill="none" stroke="#000" stroke-width="1.30" stroke-linejoin="miter"/>
<path d="M82.22,744.39 L82.48,744.23 L82.93,743.95 L83.51,743.60 L84.16,743.20 L84.85,742.79 L85.51,742.41 L86.10,742.08 L86.57,741.85 L87.08,741.63 L87.78,741.35 L88.62,741.03 L89.52,740.69 L90.44,740.37 L91.32,740.08 L92.08,739.86 L92.67,739.73 L93.28,739.66 L94.10,739.63 L95.04,739.61 L96.07,739.62 L97.10,739.63 L98.09,739.66 L98.95,739.69 L99.64,739.73 L100.41,739.79 L101.46,739.90 L102.71,740.03 L104.04,740.18 L105.36,740.33 L106.55,740.46 L107.53,740.54 L108.19,740.58 L108.66,740.55 L109.17,740.47 L109.69,740.36 L110.21,740.22 L110.70,740.08 L111.14,739.94 L111.53,739.82 L111.85,739.73 L112.18,739.62 L112.61,739.45 L113.10,739.25 L113.63,739.04 L114.15,738.85 L114.63,738.71 L115.04,738.64 L115.33,738.67 L115.61,738.81 L115.95,739.04 L116.34,739.36 L116.74,739.77 L117.13,740.25 L117.48,740.79 L117.76,741.40 L117.95,742.06 L118.05,742.57 L118.13,742.91 L118.18,743.36 L118.24,744.20 L118.31,745.70 L118.42,748.13 L118.58,751.77 L118.82,756.90 L119.28,766.96 L120.05,783.75 L121.02,805.03 L122.10,828.58 L123.17,852.19 L124.14,873.62 L124.90,890.65 L125.35,901.06 L125.58,906.86 L125.74,911.64 L125.84,915.53 L125.89,918.67 L125.92,921.20 L125.93,923.26 L125.94,924.98 L125.96,926.50 L126.00,928.15 L126.02,930.08 L126.05,932.16 L126.08,934.26 L126.11,936.26 L126.15,938.01 L126.18,939.39 L126.23,940.28 L126.29,940.82 L126.37,941.26 L126.48,941.60 L126.60,941.87 L126.74,942.07 L126.89,942.22 L127.04,942.33 L127.18,942.40 L127.39,942.44 L127.69,942.43 L128.06,942.39 L128.47,942.32 L128.92,942.24 L129.36,942.15 L129.78,942.06 L130.15,941.98 L130.62,941.87 L131.30,941.70 L132.13,941.48 L133.05,941.25 L133.98,941.01 L134.87,940.80 L135.65,940.61 L136.25,940.49 L136.86,940.40 L137.67,940.29 L138.61,940.17 L139.64,940.05 L140.67,939.93 L141.65,939.82 L142.52,939.73 L143.22,939.64 L143.97,939.55 L145.00,939.43 L146.21,939.28 L147.51,939.12 L148.83,938.96 L150.06,938.81 L151.12,938.68 L151.94,938.58 L152.70,938.49 L153.66,938.37 L154.77,938.23 L155.97,938.08 L157.20,937.92 L158.43,937.78 L159.60,937.64 L160.65,937.52 L162.01,937.39 L163.99,937.19 L166.39,936.95 L169.04,936.69 L171.72,936.43 L174.25,936.19 L176.44,935.98 L178.08,935.83 L179.69,935.68 L181.78,935.49 L184.21,935.28 L186.79,935.05 L189.38,934.83 L191.81,934.63 L193.90,934.46 L195.51,934.34 L197.15,934.24 L199.34,934.13 L201.87,934.00 L204.55,933.87 L207.20,933.75 L209.60,933.64 L211.58,933.55 L212.94,933.50 L213.99,933.46 L215.16,933.42 L216.39,933.38 L217.62,933.35 L218.82,933.32 L219.93,933.30 L220.89,933.29 L221.66,933.28 L222.42,933.29 L223.38,933.31 L224.49,933.34 L225.69,933.37 L226.92,933.41 L228.15,933.44 L229.32,933.47 L230.37,933.50 L231.75,933.52 L233.78,933.55 L236.25,933.59 L238.95,933.63 L241.67,933.66 L244.19,933.69 L246.31,933.71 L247.80,933.71 L249.07,933.69 L250.59,933.65 L252.27,933.59 L254.03,933.53 L255.77,933.46 L257.41,933.39 L258.85,933.33 L260.00,933.28 L261.23,933.23 L262.85,933.16 L264.76,933.08 L266.81,932.98 L268.88,932.89 L270.85,932.80 L272.58,932.71 L273.94,932.65 L275.39,932.57 L277.33,932.46 L279.61,932.33 L282.06,932.19 L284.54,932.06 L286.87,931.94 L288.92,931.85 L290.50,931.80 L292.14,931.79 L294.33,931.80 L296.88,931.82 L299.62,931.86 L302.36,931.90 L304.93,931.94 L307.14,931.98 L308.81,932.01 L310.47,932.05 L312.67,932.10 L315.20,932.16 L317.88,932.23 L320.51,932.30 L322.91,932.36 L324.88,932.41 L326.24,932.44 L327.25,932.45 L328.33,932.46 L329.45,932.47 L330.59,932.47 L331.73,932.47 L332.85,932.46 L333.93,932.45 L334.95,932.44 L336.34,932.41 L338.40,932.36 L340.90,932.30 L343.63,932.23 L346.37,932.16 L348.88,932.10 L350.96,932.05 L352.38,932.01 L353.50,931.98 L354.77,931.95 L356.14,931.91 L357.53,931.87 L358.88,931.83 L360.11,931.81 L361.16,931.79 L361.97,931.80 L362.75,931.83 L363.73,931.88 L364.85,931.95 L366.02,932.04 L367.18,932.13 L368.24,932.24 L369.14,932.34 L369.81,932.44 L370.44,932.59 L371.24,932.84 L372.13,933.14 L373.07,933.47 L373.98,933.79 L374.80,934.06 L375.47,934.26 L375.91,934.34 L376.23,934.37 L376.55,934.39 L376.87,934.38 L377.18,934.31 L377.46,934.15 L377.72,933.88 L377.93,933.46 L378.09,932.86 L378.21,932.27 L378.33,931.73 L378.44,930.99 L378.57,929.81 L378.72,927.95 L378.90,925.18 L379.12,921.24 L379.40,915.90 L379.89,905.60 L380.69,888.45 L381.69,866.74 L382.79,842.74 L383.90,818.75 L384.90,797.05 L385.70,779.91 L386.19,769.62 L386.48,764.32 L386.72,760.46 L386.93,757.79 L387.11,756.03 L387.26,754.95 L387.39,754.26 L387.49,753.73 L387.59,753.08 L387.68,752.30 L387.79,751.55 L387.91,750.85 L388.03,750.21 L388.16,749.65 L388.29,749.18 L388.42,748.84 L388.55,748.63 L388.72,748.55 L388.96,748.57 L389.26,748.66 L389.60,748.80 L389.96,748.98 L390.30,749.16 L390.63,749.34 L390.90,749.48 L391.21,749.66 L391.64,749.93 L392.15,750.26 L392.72,750.63 L393.33,751.00 L393.94,751.34 L394.54,751.62 L395.08,751.81 L395.82,751.97 L396.90,752.17 L398.24,752.38 L399.71,752.59 L401.20,752.79 L402.59,752.94 L403.79,753.05 L404.67,753.08 L405.50,753.03 L406.56,752.88 L407.77,752.68 L409.06,752.44 L410.34,752.19 L411.55,751.95 L412.59,751.74 L413.38,751.60 L414.22,751.47 L415.36,751.30 L416.68,751.11 L418.07,750.91 L419.42,750.71 L420.62,750.54 L421.55,750.41 L422.10,750.33" fill="none" stroke="#0A960A" stroke-width="1.75" stroke-linejoin="round" stroke-linecap="butt"/>
<path d="M82.22,745.24 L82.48,745.10 L82.93,744.87 L83.51,744.57 L84.16,744.24 L84.85,743.89 L85.51,743.57 L86.10,743.31 L86.57,743.12 L87.08,742.96 L87.78,742.76 L88.62,742.54 L89.52,742.31 L90.44,742.09 L91.32,741.89 L92.08,741.73 L92.67,741.64 L93.28,741.58 L94.10,741.53 L95.04,741.49 L96.07,741.46 L97.10,741.44 L98.09,741.42 L98.95,741.42 L99.64,741.42 L100.41,741.45 L101.46,741.51 L102.71,741.60 L104.04,741.68 L105.36,741.77 L106.55,741.83 L107.53,741.86 L108.19,741.85 L108.66,741.77 L109.17,741.61 L109.69,741.40 L110.21,741.17 L110.70,740.93 L111.14,740.70 L111.53,740.50 L111.85,740.36 L112.18,740.22 L112.61,740.03 L113.10,739.80 L113.63,739.56 L114.15,739.35 L114.63,739.18 L115.04,739.09 L115.33,739.09 L115.61,739.20 L115.95,739.38 L116.34,739.64 L116.74,739.97 L117.13,740.38 L117.48,740.87 L117.76,741.43 L117.95,742.06 L118.05,742.50 L118.12,742.69 L118.16,742.95 L118.21,743.63 L118.28,745.03 L118.39,747.50 L118.56,751.34 L118.82,756.90 L119.32,767.99 L120.16,786.57 L121.23,810.15 L122.40,836.24 L123.57,862.35 L124.63,885.99 L125.47,904.67 L125.96,915.90 L126.21,921.74 L126.37,926.09 L126.46,929.19 L126.51,931.31 L126.52,932.69 L126.53,933.59 L126.54,934.27 L126.57,934.98 L126.63,935.70 L126.71,936.27 L126.79,936.70 L126.88,937.01 L126.99,937.22 L127.11,937.37 L127.23,937.46 L127.36,937.52 L127.54,937.54 L127.82,937.47 L128.16,937.35 L128.55,937.19 L128.97,937.01 L129.39,936.81 L129.79,936.63 L130.15,936.46 L130.61,936.25 L131.29,935.93 L132.12,935.52 L133.04,935.09 L133.98,934.65 L134.87,934.25 L135.65,933.92 L136.25,933.71 L136.86,933.57 L137.67,933.42 L138.61,933.28 L139.64,933.15 L140.67,933.01 L141.65,932.89 L142.52,932.76 L143.22,932.65 L143.97,932.50 L145.00,932.28 L146.21,932.02 L147.51,931.73 L148.83,931.44 L150.06,931.17 L151.12,930.93 L151.94,930.74 L152.74,930.55 L153.79,930.30 L155.00,930.00 L156.29,929.68 L157.59,929.36 L158.80,929.06 L159.85,928.81 L160.65,928.62 L161.45,928.44 L162.50,928.21 L163.71,927.94 L165.01,927.66 L166.30,927.38 L167.51,927.11 L168.56,926.89 L169.37,926.71 L170.17,926.54 L171.22,926.31 L172.43,926.04 L173.72,925.76 L175.02,925.47 L176.23,925.21 L177.28,924.98 L178.08,924.80 L178.88,924.63 L179.93,924.40 L181.14,924.13 L182.44,923.84 L183.73,923.56 L184.94,923.29 L185.99,923.07 L186.80,922.90 L187.60,922.73 L188.65,922.53 L189.86,922.30 L191.15,922.05 L192.45,921.80 L193.66,921.57 L194.71,921.36 L195.51,921.20 L196.31,921.03 L197.36,920.80 L198.57,920.53 L199.87,920.25 L201.16,919.96 L202.37,919.69 L203.42,919.46 L204.22,919.29 L205.03,919.13 L206.08,918.92 L207.29,918.69 L208.58,918.44 L209.88,918.19 L211.09,917.95 L212.14,917.75 L212.94,917.60 L213.74,917.44 L214.79,917.24 L216.00,917.00 L217.30,916.75 L218.59,916.50 L219.80,916.26 L220.85,916.06 L221.66,915.90 L222.46,915.74 L223.51,915.54 L224.72,915.31 L226.01,915.06 L227.31,914.81 L228.52,914.57 L229.57,914.37 L230.37,914.20 L231.17,914.03 L232.22,913.80 L233.43,913.54 L234.73,913.25 L236.02,912.96 L237.23,912.70 L238.28,912.47 L239.09,912.30 L239.89,912.14 L240.94,911.94 L242.15,911.71 L243.44,911.46 L244.74,911.22 L245.95,910.98 L247.00,910.77 L247.80,910.60 L248.60,910.40 L249.65,910.13 L250.86,909.80 L252.16,909.45 L253.45,909.10 L254.66,908.76 L255.71,908.48 L256.51,908.27 L257.32,908.06 L258.37,907.80 L259.58,907.50 L260.87,907.18 L262.17,906.86 L263.38,906.57 L264.43,906.32 L265.23,906.15 L266.03,905.99 L267.08,905.81 L268.29,905.60 L269.59,905.38 L270.88,905.17 L272.09,904.97 L273.14,904.80 L273.94,904.66 L274.75,904.53 L275.80,904.35 L277.01,904.15 L278.30,903.93 L279.60,903.71 L280.81,903.50 L281.86,903.32 L282.66,903.18 L283.46,903.03 L284.51,902.83 L285.72,902.59 L287.02,902.33 L288.31,902.08 L289.52,901.84 L290.57,901.64 L291.38,901.48 L292.18,901.34 L293.23,901.16 L294.44,900.95 L295.73,900.73 L297.03,900.51 L298.24,900.30 L299.29,900.13 L300.09,900.00 L300.89,899.88 L301.94,899.73 L303.15,899.55 L304.45,899.37 L305.74,899.19 L306.95,899.01 L308.00,898.86 L308.81,898.73 L309.61,898.58 L310.66,898.38 L311.87,898.14 L313.16,897.89 L314.46,897.63 L315.67,897.39 L316.72,897.18 L317.52,897.03 L318.32,896.89 L319.37,896.71 L320.58,896.50 L321.88,896.28 L323.17,896.06 L324.38,895.86 L325.43,895.68 L326.24,895.55 L327.04,895.41 L328.09,895.24 L329.30,895.03 L330.59,894.81 L331.89,894.60 L333.10,894.39 L334.15,894.21 L334.95,894.06 L335.75,893.91 L336.80,893.70 L338.01,893.46 L339.31,893.20 L340.60,892.94 L341.81,892.70 L342.86,892.51 L343.67,892.37 L344.47,892.25 L345.52,892.11 L346.73,891.96 L348.02,891.80 L349.32,891.65 L350.53,891.51 L351.58,891.39 L352.38,891.31 L353.18,891.24 L354.23,891.17 L355.44,891.10 L356.74,891.02 L358.03,890.94 L359.24,890.85 L360.29,890.77 L361.09,890.67 L361.92,890.52 L363.02,890.29 L364.30,890.00 L365.65,889.68 L366.98,889.37 L368.18,889.09 L369.16,888.88 L369.81,888.76 L370.28,888.74 L370.77,888.76 L371.27,888.82 L371.75,888.90 L372.21,888.99 L372.63,889.07 L373.00,889.15 L373.30,889.19 L373.62,889.23 L374.06,889.29 L374.57,889.36 L375.10,889.43 L375.63,889.48 L376.11,889.50 L376.51,889.48 L376.78,889.40 L376.99,889.29 L377.23,889.15 L377.48,888.96 L377.74,888.69 L377.98,888.31 L378.20,887.79 L378.38,887.11 L378.52,886.22 L378.64,884.96 L378.75,883.19 L378.87,880.92 L379.00,878.18 L379.15,874.98 L379.34,871.36 L379.56,867.32 L379.83,862.90 L380.31,855.54 L381.07,843.68 L382.04,828.85 L383.10,812.56 L384.16,796.34 L385.13,781.71 L385.89,770.17 L386.37,763.26 L386.64,759.76 L386.87,757.33 L387.06,755.75 L387.22,754.83 L387.35,754.37 L387.47,754.17 L387.58,754.02 L387.68,753.72 L387.79,753.30 L387.94,752.93 L388.10,752.60 L388.28,752.31 L388.47,752.07 L388.65,751.87 L388.82,751.71 L388.98,751.60 L389.18,751.52 L389.46,751.46 L389.80,751.42 L390.18,751.39 L390.57,751.37 L390.95,751.37 L391.30,751.38 L391.60,751.39 L391.93,751.42 L392.39,751.49 L392.94,751.59 L393.55,751.69 L394.19,751.80 L394.82,751.89 L395.42,751.97 L395.95,752.02 L396.63,752.06 L397.62,752.10 L398.83,752.15 L400.15,752.19 L401.49,752.22 L402.76,752.24 L403.85,752.25 L404.67,752.24 L405.47,752.19 L406.52,752.10 L407.73,751.99 L409.03,751.86 L410.32,751.72 L411.53,751.59 L412.58,751.48 L413.38,751.39 L414.22,751.29 L415.36,751.16 L416.68,751.00 L418.07,750.83 L419.42,750.66 L420.62,750.51 L421.55,750.40 L422.10,750.33" fill="none" stroke="#3D6CC3" stroke-width="1.75" stroke-linejoin="round" stroke-linecap="butt"/>
<path d="M82.22,958.30 L83.36,958.30 L85.31,958.29 L87.81,958.29 L90.60,958.28 L93.44,958.28 L96.06,958.28 L98.22,958.29 L99.64,958.30 L100.71,958.33 L101.91,958.38 L103.18,958.44 L104.46,958.50 L105.68,958.57 L106.78,958.64 L107.69,958.69 L108.36,958.72 L108.95,958.75 L109.64,958.79 L110.39,958.83 L111.16,958.87 L111.90,958.90 L112.59,958.93 L113.16,958.94 L113.59,958.94 L113.99,958.92 L114.47,958.89 L115.02,958.84 L115.58,958.78 L116.14,958.70 L116.66,958.60 L117.10,958.47 L117.42,958.30 L117.73,958.02 L118.10,957.57 L118.53,957.01 L118.97,956.37 L119.42,955.71 L119.85,955.07 L120.24,954.51 L120.56,954.06 L120.93,953.56 L121.45,952.86 L122.07,952.02 L122.74,951.12 L123.40,950.23 L124.02,949.42 L124.54,948.77 L124.92,948.34 L125.25,948.03 L125.64,947.72 L126.09,947.40 L126.55,947.09 L127.02,946.81 L127.45,946.56 L127.84,946.36 L128.14,946.22 L128.47,946.10 L128.91,945.98 L129.42,945.86 L129.97,945.74 L130.53,945.63 L131.06,945.53 L131.53,945.44 L131.89,945.37 L132.26,945.29 L132.75,945.19 L133.33,945.08 L133.95,944.96 L134.59,944.84 L135.20,944.72 L135.77,944.61 L136.25,944.52 L136.81,944.42 L137.59,944.28 L138.54,944.11 L139.57,943.92 L140.62,943.73 L141.63,943.55 L142.52,943.39 L143.22,943.25 L143.97,943.09 L145.00,942.88 L146.21,942.62 L147.51,942.33 L148.83,942.05 L150.06,941.77 L151.12,941.53 L151.94,941.34 L152.74,941.14 L153.79,940.86 L155.00,940.53 L156.29,940.18 L157.59,939.83 L158.80,939.50 L159.85,939.22 L160.65,939.01 L161.45,938.81 L162.50,938.55 L163.71,938.25 L165.01,937.93 L166.30,937.62 L167.51,937.33 L168.56,937.08 L169.37,936.89 L170.17,936.71 L171.22,936.48 L172.43,936.21 L173.72,935.93 L175.02,935.65 L176.23,935.39 L177.28,935.16 L178.08,934.98 L178.88,934.79 L179.93,934.54 L181.14,934.24 L182.44,933.92 L183.73,933.60 L184.94,933.30 L185.99,933.05 L186.80,932.86 L187.60,932.68 L188.65,932.45 L189.86,932.19 L191.15,931.91 L192.45,931.63 L193.66,931.36 L194.71,931.13 L195.51,930.95 L196.31,930.76 L197.36,930.51 L198.57,930.21 L199.87,929.89 L201.16,929.57 L202.37,929.28 L203.42,929.02 L204.22,928.83 L205.03,928.65 L206.08,928.42 L207.29,928.15 L208.58,927.87 L209.88,927.59 L211.09,927.33 L212.14,927.10 L212.94,926.92 L213.74,926.75 L214.79,926.52 L216.00,926.25 L217.30,925.97 L218.59,925.69 L219.80,925.42 L220.85,925.19 L221.66,925.02 L222.46,924.84 L223.51,924.61 L224.72,924.35 L226.01,924.07 L227.31,923.79 L228.52,923.52 L229.57,923.29 L230.37,923.11 L231.17,922.92 L232.22,922.66 L233.43,922.36 L234.73,922.04 L236.02,921.72 L237.23,921.42 L238.28,921.17 L239.09,920.99 L239.89,920.82 L240.94,920.60 L242.15,920.36 L243.44,920.11 L244.74,919.86 L245.95,919.63 L247.00,919.43 L247.80,919.29 L248.60,919.17 L249.65,919.01 L250.86,918.84 L252.16,918.66 L253.45,918.48 L254.66,918.31 L255.71,918.15 L256.51,918.02 L257.32,917.86 L258.37,917.64 L259.58,917.37 L260.87,917.08 L262.17,916.79 L263.38,916.52 L264.43,916.28 L265.23,916.11 L266.03,915.95 L267.08,915.74 L268.29,915.51 L269.59,915.26 L270.88,915.01 L272.09,914.77 L273.14,914.57 L273.94,914.42 L274.75,914.26 L275.80,914.06 L277.01,913.82 L278.30,913.57 L279.60,913.32 L280.81,913.08 L281.86,912.88 L282.66,912.72 L283.46,912.56 L284.51,912.36 L285.72,912.12 L287.02,911.86 L288.31,911.61 L289.52,911.38 L290.57,911.17 L291.38,911.02 L292.18,910.88 L293.23,910.70 L294.44,910.49 L295.73,910.27 L297.03,910.05 L298.24,909.84 L299.29,909.67 L300.09,909.54 L300.89,909.42 L301.94,909.27 L303.15,909.10 L304.45,908.92 L305.74,908.74 L306.95,908.56 L308.00,908.40 L308.81,908.27 L309.61,908.11 L310.66,907.88 L311.87,907.61 L313.16,907.32 L314.46,907.03 L315.67,906.76 L316.72,906.53 L317.52,906.36 L318.32,906.21 L319.37,906.03 L320.58,905.82 L321.88,905.60 L323.17,905.39 L324.38,905.19 L325.43,905.01 L326.24,904.88 L327.04,904.74 L328.09,904.56 L329.30,904.35 L330.59,904.13 L331.89,903.91 L333.10,903.71 L334.15,903.53 L334.95,903.39 L335.75,903.25 L336.80,903.07 L338.01,902.85 L339.31,902.63 L340.60,902.40 L341.81,902.20 L342.86,902.03 L343.67,901.91 L344.47,901.81 L345.52,901.71 L346.73,901.59 L348.02,901.48 L349.32,901.36 L350.53,901.25 L351.58,901.15 L352.38,901.06 L353.18,900.96 L354.23,900.82 L355.44,900.65 L356.74,900.46 L358.03,900.27 L359.24,900.09 L360.29,899.93 L361.09,899.79 L361.92,899.63 L363.01,899.40 L364.27,899.13 L365.62,898.83 L366.94,898.54 L368.14,898.27 L369.13,898.04 L369.81,897.88 L370.34,897.74 L370.94,897.57 L371.57,897.38 L372.20,897.19 L372.81,897.00 L373.36,896.83 L373.82,896.70 L374.17,896.61 L374.49,896.52 L374.88,896.41 L375.32,896.28 L375.77,896.17 L376.22,896.08 L376.62,896.04 L376.97,896.07 L377.22,896.18 L377.44,896.41 L377.70,896.77 L377.99,897.23 L378.29,897.81 L378.60,898.49 L378.89,899.26 L379.16,900.12 L379.40,901.06 L379.68,902.50 L380.08,904.73 L380.56,907.52 L381.08,910.65 L381.61,913.91 L382.11,917.08 L382.55,919.93 L382.88,922.26 L383.23,925.00 L383.71,928.96 L384.27,933.70 L384.86,938.80 L385.44,943.81 L385.95,948.32 L386.37,951.88 L386.63,954.06 L386.77,955.26 L386.87,956.17 L386.95,956.86 L387.01,957.35 L387.07,957.69 L387.15,957.94 L387.26,958.13 L387.41,958.30 L387.70,958.47 L388.16,958.61 L388.73,958.72 L389.37,958.80 L390.03,958.86 L390.65,958.91 L391.19,958.93 L391.60,958.94 L391.90,958.91 L392.21,958.85 L392.55,958.75 L392.95,958.64 L393.46,958.53 L394.11,958.43 L394.93,958.35 L395.95,958.30 L397.85,958.28 L400.96,958.27 L404.88,958.27 L409.19,958.28 L413.48,958.28 L417.34,958.29 L420.35,958.30 L422.10,958.30" fill="none" stroke="#C40505" stroke-width="1.75" stroke-linejoin="round" stroke-linecap="butt"/>
<path d="M422.10,703.25 V962.90" fill="none" stroke="#000" stroke-width="1.30"/>
<path d="M68.90,958.30 H73.50" stroke="#000" stroke-width="1.30"/>
<text x="60.70" y="963.00" text-anchor="end" font-family="Liberation Serif" font-size="14.30px">0</text>
<path d="M68.90,915.90 H73.50" stroke="#000" stroke-width="1.30"/>
<text x="60.70" y="920.60" text-anchor="end" font-family="Liberation Serif" font-size="14.30px">0.2</text>
<path d="M68.90,873.50 H73.50" stroke="#000" stroke-width="1.30"/>
<text x="60.70" y="878.20" text-anchor="end" font-family="Liberation Serif" font-size="14.30px">0.4</text>
<path d="M68.90,831.10 H73.50" stroke="#000" stroke-width="1.30"/>
<text x="60.70" y="835.80" text-anchor="end" font-family="Liberation Serif" font-size="14.30px">0.6</text>
<path d="M68.90,788.70 H73.50" stroke="#000" stroke-width="1.30"/>
<text x="60.70" y="793.40" text-anchor="end" font-family="Liberation Serif" font-size="14.30px">0.8</text>
<path d="M68.90,746.30 H73.50" stroke="#000" stroke-width="1.30"/>
<text x="60.70" y="751.00" text-anchor="end" font-family="Liberation Serif" font-size="14.30px">1</text>
<path d="M68.90,703.90 H73.50" stroke="#000" stroke-width="1.30"/>
<text x="60.70" y="708.60" text-anchor="end" font-family="Liberation Serif" font-size="14.30px">1.2</text>
<path d="M73.50,958.95 V962.90" stroke="#000" stroke-width="1.30"/>
<text x="73.50" y="982.30" text-anchor="middle" font-family="Liberation Sans" font-size="13.00px">0</text>
<path d="M160.65,958.95 V962.90" stroke="#000" stroke-width="1.30"/>
<text x="160.65" y="982.30" text-anchor="middle" font-family="Liberation Sans" font-size="13.00px">10</text>
<path d="M247.80,958.95 V962.90" stroke="#000" stroke-width="1.30"/>
<text x="247.80" y="982.30" text-anchor="middle" font-family="Liberation Sans" font-size="13.00px">20</text>
<path d="M334.95,958.95 V962.90" stroke="#000" stroke-width="1.30"/>
<text x="334.95" y="982.30" text-anchor="middle" font-family="Liberation Sans" font-size="13.00px">30</text>
<path d="M422.10,958.95 V962.90" stroke="#000" stroke-width="1.30"/>
<text x="422.10" y="982.30" text-anchor="middle" font-family="Liberation Sans" font-size="13.00px">40</text>
<text x="248.00" y="1006.50" text-anchor="middle" font-family="Liberation Serif" font-weight="bold" font-size="16.40px">Time / min</text>
<text transform="translate(30.60,831.20) rotate(-90)" text-anchor="middle" font-family="Liberation Serif" font-weight="bold" font-size="17.75px">Concentration / ppm</text>
<path d="M125.30,722.80 H155.00" stroke="#0A960A" stroke-width="1.75"/>
<text x="157.40" y="728.70" font-family="Liberation Serif" font-size="16.50px">NO</text>
<path d="M204.10,722.80 H234.20" stroke="#3D6CC3" stroke-width="1.75"/>
<text x="236.80" y="728.70" font-family="Liberation Serif" font-size="16.50px">NOx</text>
<path d="M291.80,722.80 H321.60" stroke="#C40505" stroke-width="1.75"/>
<text x="324.50" y="728.70" font-family="Liberation Serif" font-size="16.50px">NO2</text>
<text x="238.60" y="823.00" font-family="Liberation Serif" font-size="18.00px">TiO<tspan font-size="11.88px" dy="2.52">2</tspan><tspan dy="-2.52">/Ni_600</tspan></text>
<text x="528.30" y="698.20" font-family="Liberation Serif" font-weight="bold" font-size="18px" letter-spacing="-0.35px">(<tspan font-size="16px">c</tspan>)</text>
</svg>
</div>
</body></html>
